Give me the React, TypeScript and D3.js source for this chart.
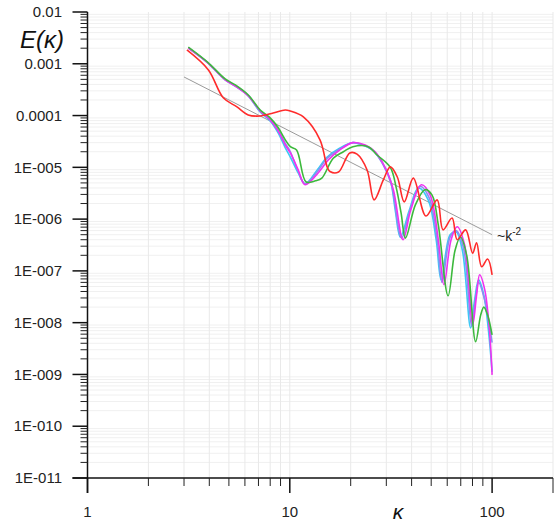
import React from "react";
import * as d3 from "d3";

const W = 555;
const H = 525;
const X0 = 87.5, X1 = 553, Y0 = 478, Y1 = 12;

const redK = [3.1, 3.96, 4.69, 5.48, 6.23, 7.14, 8.28, 9.5, 10.06, 11.67, 14.1, 15.3, 15.8, 17.4, 19.8, 21.5, 24.1, 26.1, 29.0, 31.4, 34.0, 36.8, 40.8, 47.1, 53.5, 57.2, 63.4, 67.2, 74.0, 80.1, 83.8, 88.8, 95.0, 100];
const redE = [1.85e-3, 7.6e-4, 2.2e-4, 1.47e-4, 1.03e-4, 9.8e-5, 1.12e-4, 1.28e-4, 1.22e-4, 9.4e-5, 3.4e-5, 1.02e-5, 8.3e-6, 8.1e-6, 1.9e-5, 1.8e-5, 8.9e-6, 2.35e-6, 5.7e-6, 1.02e-5, 6.5e-6, 2.15e-6, 6.2e-6, 1.15e-6, 2.35e-6, 6.2e-7, 1.05e-6, 4.0e-7, 6.2e-7, 2.2e-7, 3.5e-7, 1.2e-7, 1.7e-7, 8.4e-8];

const greenK = [3.15, 3.92, 4.79, 5.38, 6.23, 7.14, 8.0, 8.77, 9.5, 10.06, 10.8, 12.05, 13.4, 14.4, 16.4, 18.4, 20.5, 24.4, 27.0, 31.4, 33.6, 35.5, 37.3, 41.8, 46.6, 50.5, 54.2, 60.6, 65.6, 69.7, 74.9, 82.9, 87.8, 91.0, 95.0, 100];
const greenE = [2.1e-3, 1.08e-3, 5.1e-4, 3.9e-4, 2.5e-4, 1.28e-4, 9.0e-5, 5.8e-5, 3.4e-5, 2.5e-5, 2.17e-5, 5.2e-6, 5.5e-6, 6.2e-6, 1.5e-5, 2.0e-5, 2.5e-5, 2.5e-5, 1.73e-5, 1.0e-5, 4.0e-6, 1.3e-6, 4.3e-7, 1.9e-6, 3.7e-6, 2.9e-6, 7.7e-7, 3.3e-8, 2.5e-7, 4.5e-7, 2.0e-7, 4.3e-9, 1.4e-8, 2.0e-8, 1.4e-8, 5.8e-9];

const cyanK = [3.15, 3.92, 4.79, 5.38, 6.23, 7.14, 8.0, 8.77, 9.5, 10.06, 11.0, 11.9, 13.66, 15.3, 17.7, 20.5, 22.8, 25.6, 28.7, 31.4, 33.2, 35.2, 39.0, 43.2, 48.3, 52.9, 56.0, 62.0, 66.4, 71.3, 78.3, 82.0, 85.8, 91.0, 95.9, 100];
const cyanE = [2.0e-3, 1.05e-3, 4.9e-4, 3.7e-4, 2.4e-4, 1.17e-4, 7.9e-5, 4.6e-5, 2.37e-5, 1.58e-5, 7.8e-6, 4.8e-6, 8.9e-6, 1.58e-5, 2.37e-5, 3.0e-5, 2.7e-5, 2.17e-5, 1.22e-5, 5.7e-6, 1.5e-6, 4.5e-7, 1.5e-6, 4.0e-6, 2.35e-6, 4.0e-7, 6.7e-8, 5.0e-7, 5.7e-7, 2.5e-7, 7.9e-9, 2.8e-8, 6.7e-8, 3.4e-8, 7.2e-9, 1.12e-9];

const blueK = [3.15, 3.92, 4.79, 5.38, 6.23, 7.14, 8.0, 8.77, 9.5, 10.06, 11.0, 11.9, 13.66, 15.3, 17.7, 20.5, 23.0, 25.9, 29.0, 31.8, 35.7, 39.3, 44.0, 48.8, 53.5, 56.6, 62.0, 66.4, 72.2, 79.2, 82.9, 85.8, 92.0, 97.0, 100];
const blueE = [2.05e-3, 1.06e-3, 5.0e-4, 3.8e-4, 2.45e-4, 1.22e-4, 8.4e-5, 5.2e-5, 2.9e-5, 2.0e-5, 8.4e-6, 4.8e-6, 8.2e-6, 1.5e-5, 2.25e-5, 3.0e-5, 2.7e-5, 2.1e-5, 1.1e-5, 4.6e-6, 4.3e-7, 1.5e-6, 4.3e-6, 2.6e-6, 4.0e-7, 6.0e-8, 4.5e-7, 6.0e-7, 2.8e-7, 8.5e-9, 3.0e-8, 6.0e-8, 2.7e-8, 9.0e-9, 4.1e-9];

const magentaK = [3.15, 3.92, 4.79, 5.38, 6.23, 7.14, 8.0, 8.77, 9.5, 10.06, 11.0, 11.9, 13.8, 15.5, 17.7, 20.5, 23.6, 26.4, 29.7, 32.5, 36.3, 39.6, 44.7, 49.4, 54.2, 57.8, 62.7, 67.2, 73.1, 80.1, 83.8, 86.8, 92.0, 97.0, 100];
const magentaE = [2.0e-3, 1.05e-3, 4.9e-4, 3.7e-4, 2.4e-4, 1.23e-4, 8.2e-5, 5.0e-5, 2.7e-5, 1.9e-5, 8.9e-6, 4.6e-6, 7.8e-6, 1.39e-5, 2.17e-5, 3.0e-5, 2.7e-5, 2.0e-5, 9.7e-6, 3.7e-6, 4.0e-7, 1.5e-6, 4.6e-6, 2.9e-6, 4.0e-7, 5.4e-8, 4.0e-7, 7.1e-7, 3.2e-7, 9.1e-9, 3.4e-8, 8.4e-8, 4.3e-8, 7.2e-9, 9.8e-10];

const refK = [3, 100];
const refE = [5.56e-4, 5.0e-7];

const xMajor = [1, 10, 100];
const xMajorLabels = ["1", "10", "100"];
const yMajor = [1e-2, 1e-3, 1e-4, 1e-5, 1e-6, 1e-7, 1e-8, 1e-9, 1e-10, 1e-11];
const yMajorLabels = ["0.01", "0.001", "0.0001", "1E-005", "1E-006", "1E-007", "1E-008", "1E-009", "1E-010", "1E-011"];

const series = [
  { k: cyanK, e: cyanE, color: "#3cc8f5" },
  { k: blueK, e: blueE, color: "#8c8cf0" },
  { k: magentaK, e: magentaE, color: "#f032f0" },
  { k: greenK, e: greenE, color: "#3cb93c" },
  { k: redK, e: redE, color: "#ff2b2b" },
];

const FONT = "'Liberation Sans', Arial, sans-serif";

export default function App() {
  const x = d3.scaleLog().domain([1, 200]).range([X0, X1]);
  const y = d3.scaleLog().domain([1e-11, 1e-2]).range([Y0, Y1]);

  const xMinor: number[] = [];
  for (const d of [1, 10, 100]) for (let m = 2; m <= 9; m++) if (d * m <= 200) xMinor.push(d * m);
  const yMinor: number[] = [];
  for (let p = -11; p < -2; p++) for (let m = 2; m <= 9; m++) yMinor.push(m * Math.pow(10, p));

  const line = d3
    .line<[number, number]>()
    .x((d) => x(d[0]))
    .y((d) => y(d[1]))
    .curve(d3.curveCatmullRom.alpha(0.5));

  const refLine = d3
    .line<[number, number]>()
    .x((d) => x(d[0]))
    .y((d) => y(d[1]));

  return (
    <svg width={W} height={H} style={{ position: "absolute", left: 0, top: 0, background: "#fff" }} fontFamily={FONT}>
      {/* grid */}
      {yMinor.map((v, i) => (
        <line key={"gy" + i} x1={X0} x2={X1} y1={y(v)} y2={y(v)} stroke="#f0f0f0" strokeWidth={1} />
      ))}
      {[...xMinor, 10, 100].map((v, i) => (
        <line key={"gx" + i} x1={x(v)} x2={x(v)} y1={Y0} y2={Y1} stroke="#e9e9e9" strokeWidth={1} />
      ))}
      {/* reference line */}
      <path d={refLine(refK.map((k, i) => [k, refE[i]] as [number, number])) || ""} fill="none" stroke="#9a9a9a" strokeWidth={1} />
      <text x={x(refK[1]) + 5} y={y(refE[1]) + 6} fontSize={14} fill="#222">
        ~k<tspan dy={-6} fontSize={10}>-2</tspan>
      </text>
      {/* series */}
      {series.map((s, i) => (
        <path
          key={"s" + i}
          d={line(s.k.map((k, j) => [k, s.e[j]] as [number, number])) || ""}
          fill="none"
          stroke={s.color}
          strokeWidth={1.6}
          strokeLinejoin="round"
        />
      ))}
      {/* axes */}
      <line x1={X0} x2={X0} y1={Y1} y2={Y0 + 15} stroke="#111" strokeWidth={1.5} />
      <line x1={X0 - 15} x2={X1} y1={Y0} y2={Y0} stroke="#111" strokeWidth={1.5} />
      {yMajor.map((v, i) => (
        <g key={"ym" + i}>
          <line x1={X0 - 15} x2={X0} y1={y(v)} y2={y(v)} stroke="#111" strokeWidth={1.5} />
          <text x={62} y={y(v)} dy="0.35em" textAnchor="end" fontSize={15} fill="#222">
            {yMajorLabels[i]}
          </text>
        </g>
      ))}
      {yMinor.map((v, i) => (
        <line key={"yt" + i} x1={X0 - 7} x2={X0} y1={y(v)} y2={y(v)} stroke="#222" strokeWidth={1} />
      ))}
      {xMajor.map((v, i) => (
        <g key={"xm" + i}>
          <line x1={x(v)} x2={x(v)} y1={Y0} y2={Y0 + 15} stroke="#111" strokeWidth={1.5} />
          <text x={x(v)} y={517} textAnchor="middle" fontSize={15} fill="#222">
            {xMajorLabels[i]}
          </text>
        </g>
      ))}
      {xMinor.map((v, i) => (
        <line key={"xt" + i} x1={x(v)} x2={x(v)} y1={Y0} y2={Y0 + (v === 200 ? 15 : 8)} stroke="#222" strokeWidth={1} />
      ))}
      <text x={20} y={48} fontSize={24} fontStyle="italic" fill="#111">E(κ)</text>
      <text x={398} y={519} fontSize={21} fontStyle="italic" textAnchor="middle" fill="#111">κ</text>
    </svg>
  );
}
